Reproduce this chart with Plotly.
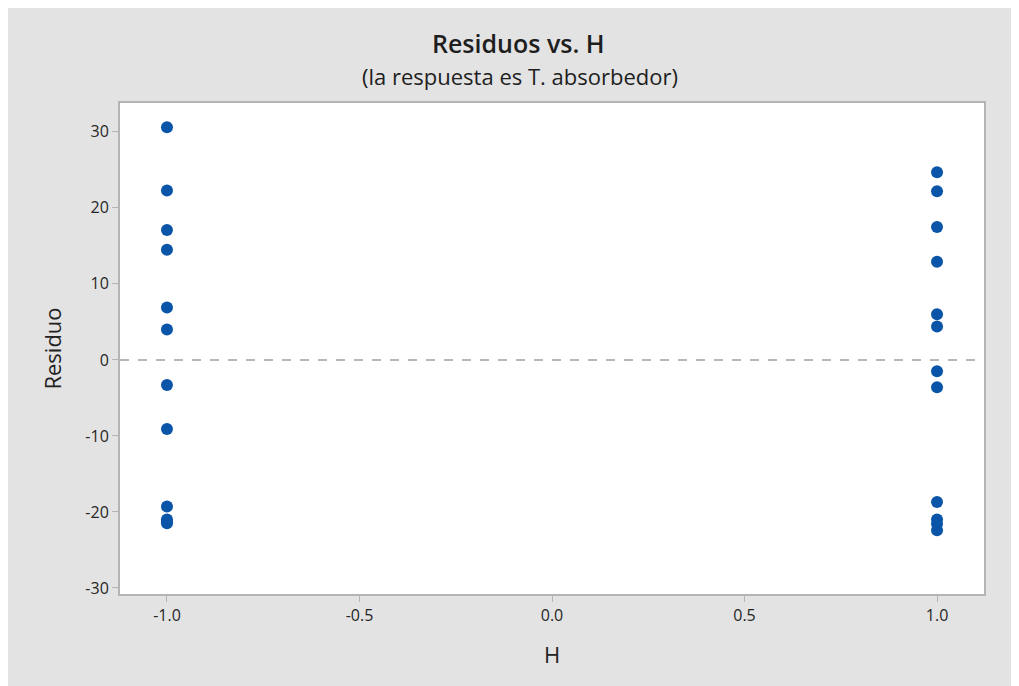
import plotly.graph_objects as go

h_levels = [-1.0] * 12 + [1.0] * 12
residuos = [30.6, 22.3, 17.1, 14.5, 6.9, 4.0, -3.3, -9.1, -19.3, -21.0, -21.3, -21.5,
            24.7, 22.2, 17.5, 12.9, 6.0, 4.4, -1.5, -3.6, -18.7, -21.0, -21.6, -22.4]
x_ticks = [-1.0, -0.5, 0.0, 0.5, 1.0]
x_tick_labels = ["-1.0", "-0.5", "0.0", "0.5", "1.0"]
y_ticks = [-30, -20, -10, 0, 10, 20, 30]
y_tick_labels = ["-30", "-20", "-10", "0", "10", "20", "30"]

# page has an 8px body offset; figure coords = page coords - 8
OFF = 8
W, H = 1019 - OFF, 686 - OFF
L, R, T, B = 120 - OFF, 1019 - 984, 103 - OFF, 686 - 594
pw, ph = W - L - R, H - T - B

def px(xpix):
    return (xpix - OFF - L) / pw

def py(ypix):
    return 1 - (ypix - OFF - T) / ph

fig = go.Figure()
fig.add_trace(go.Scatter(
    x=h_levels, y=residuos, mode="markers",
    marker=dict(color="#0a55a8", size=12, line=dict(width=0)),
    hoverinfo="x+y", showlegend=False))

font_family = "Open Sans, Noto Sans, sans-serif"
shapes = [
    dict(type="line", xref="paper", yref="y", x0=0, x1=1, y0=0, y1=0,
         line=dict(color="#a0a0a0", width=1.5, dash="dash")),
]

fig.update_layout(
    width=W, height=H,
    margin=dict(l=L, r=R, t=T, b=B),
    paper_bgcolor="#e3e3e3", plot_bgcolor="white",
    font=dict(family=font_family, color="#222222"),
    shapes=shapes,
    annotations=[
        dict(text="Residuos vs. H", xref="paper", yref="paper", x=px(518), y=py(43),
             showarrow=False, font=dict(size=25, color="#1e1e1e", family="Open Sans", weight=600),
             xanchor="center", yanchor="middle"),
        dict(text="(la respuesta es T. absorbedor)", xref="paper", yref="paper", x=px(520), y=py(76),
             showarrow=False, font=dict(size=22, color="#1e1e1e"), xanchor="center", yanchor="middle"),
    ],
    xaxis=dict(
        range=[-1.122, 1.122], tickvals=x_ticks, ticktext=x_tick_labels,
        showgrid=False, zeroline=False, showline=True, linecolor="#b4b4b4", linewidth=2,
        mirror=True, ticks="outside", ticklen=6, tickcolor="#b4b4b4",
        tickfont=dict(size=16, color="#262626"),
        title=dict(text="H", font=dict(size=22, color="#222222"), standoff=22),
    ),
    yaxis=dict(
        range=[-30.8, 33.8], tickvals=y_ticks, ticktext=y_tick_labels,
        showgrid=False, zeroline=False, showline=True, linecolor="#b4b4b4", linewidth=2,
        mirror=True, ticks="outside", ticklen=6, tickcolor="#b4b4b4",
        tickfont=dict(size=16, color="#262626"),
        title=dict(text="Residuo", font=dict(size=22, color="#222222"), standoff=18),
    ),
)

fig.write_html("out.html")
